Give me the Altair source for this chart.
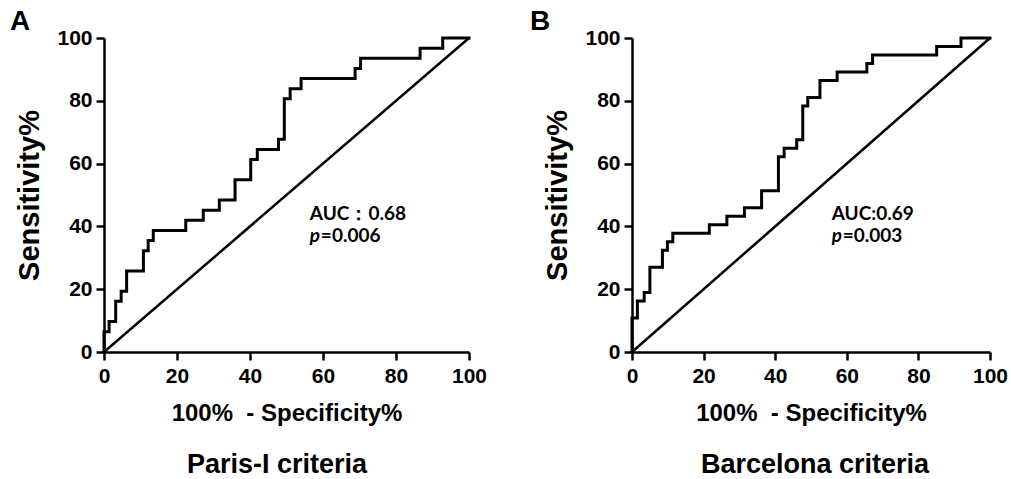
import altair as alt
import pandas as pd

# ---- data ----
A_fpr = [0, 0, 1.4, 3.2, 4.7, 6.2, 10.8, 12.1, 13.5, 22.4, 27.2, 31.6, 35.9, 40.2,
         42.0, 47.8, 49.4, 51.0, 54.0, 68.8, 70.3, 86.6, 92.8, 100]
A_tpr = [0, 6.45, 9.68, 16.13, 19.35, 25.81, 32.26, 35.48, 38.71, 41.94, 45.16, 48.39,
         54.84, 61.29, 64.52, 67.74, 80.65, 83.87, 87.10, 90.32, 93.55, 96.77, 100, 100]

B_fpr = [0, 0, 1.5, 3.4, 5.0, 8.5, 9.9, 11.4, 21.6, 26.5, 31.4, 36.2, 40.9, 42.5,
         46.0, 47.7, 49.1, 52.5, 57.3, 65.6, 67.2, 85.1, 91.9, 100]
B_tpr = [0, 10.81, 16.22, 18.92, 27.03, 32.43, 35.14, 37.84, 40.54, 43.24, 45.95, 51.35,
         62.16, 64.86, 67.57, 78.38, 81.08, 86.49, 89.19, 91.89, 94.59, 97.30, 100, 100]

diag_x = [0, 100]
diag_y = [0, 100]

tick_values = [0, 20, 40, 60, 80, 100]
x_title = "100%\u00a0 - Specificity%"
y_title = "Sensitivity%"

AXIS_FONT = "Liberation Sans"
NOTE_FONT = "Lato"


def panel(fpr, tpr, width, letter, letter_x, auc_text, p_text, note_x,
          subtitle, sub_x):
    df = pd.DataFrame({"fpr": fpr, "tpr": tpr, "i": list(range(len(fpr)))})
    x = alt.X("fpr:Q", scale=alt.Scale(domain=[0, 100], nice=False, zero=False),
              axis=alt.Axis(values=tick_values, title=x_title, labelPadding=5,
                            titlePadding=15, titleFontSize=24))
    y = alt.Y("tpr:Q", scale=alt.Scale(domain=[0, 100], nice=False, zero=False),
              axis=alt.Axis(values=tick_values, title=y_title, labelPadding=4,
                            titlePadding=12, titleFontSize=29))

    roc = alt.Chart(df).mark_line(
        interpolate="step-after", color="black", strokeWidth=3,
        strokeJoin="miter", strokeCap="square"
    ).encode(x=x, y=y, order="i:Q")

    diag = alt.Chart(pd.DataFrame({"fpr": diag_x, "tpr": diag_y})).mark_line(
        color="black", strokeWidth=2.5
    ).encode(x=x, y=y)

    auc = alt.Chart(pd.DataFrame({"fpr": [note_x], "tpr": [42.0], "t": [auc_text]})).mark_text(
        align="left", baseline="alphabetic", font=NOTE_FONT, fontWeight="bold",
        fontSize=19, color="black"
    ).encode(x=x, y=y, text="t:N")

    p_it = alt.Chart(pd.DataFrame({"fpr": [note_x], "tpr": [35.0], "t": ["p"]})).mark_text(
        align="left", baseline="alphabetic", font=NOTE_FONT, fontWeight="bold",
        fontStyle="italic", fontSize=19, color="black"
    ).encode(x=x, y=y, text="t:N")

    p_val = alt.Chart(pd.DataFrame({"fpr": [note_x], "tpr": [35.0], "t": [p_text]})).mark_text(
        align="left", baseline="alphabetic", font=NOTE_FONT, fontWeight="bold",
        fontSize=19, color="black", dx=11
    ).encode(x=x, y=y, text="t:N")

    let = alt.Chart(pd.DataFrame({"t": [letter]})).mark_text(
        align="left", baseline="alphabetic", font=AXIS_FONT, fontWeight="bold",
        fontSize=28, color="black"
    ).encode(x=alt.value(letter_x), y=alt.value(-8), text="t:N")

    sub = alt.Chart(pd.DataFrame({"t": [subtitle]})).mark_text(
        align="center", baseline="alphabetic", font=AXIS_FONT, fontWeight="bold",
        fontSize=27, color="black"
    ).encode(x=alt.value(sub_x), y=alt.value(435), text="t:N")

    return alt.layer(diag, roc, auc, p_it, p_val, let, sub).properties(
        width=width, height=314)


pa = panel(A_fpr, A_tpr, 365, "A", -94, "AUC\uff1a0.68", "=0.006", 56.4,
           "Paris-I criteria", 173)
pb = panel(B_fpr, B_tpr, 358, "B", -102, "AUC:0.69", "=0.003", 55.8,
           "Barcelona criteria", 183)

chart = alt.hconcat(pa, pb, spacing=163, bounds="flush").properties(
    padding={"left": 10, "top": 8, "right": 0, "bottom": 0},
    background="white"
).configure_view(stroke=None).configure_axis(
    grid=False, domainColor="black", domainWidth=2.5, tickColor="black",
    tickWidth=2.5, tickSize=8, labelFont=AXIS_FONT, labelFontWeight="bold",
    labelFontSize=21, labelColor="black", labelFlush=False, labelOverlap=False,
    titleFont=AXIS_FONT, titleFontWeight="bold",
    titleColor="black"
)

chart.save("out.html", embed_options={"renderer": "svg", "actions": False})
